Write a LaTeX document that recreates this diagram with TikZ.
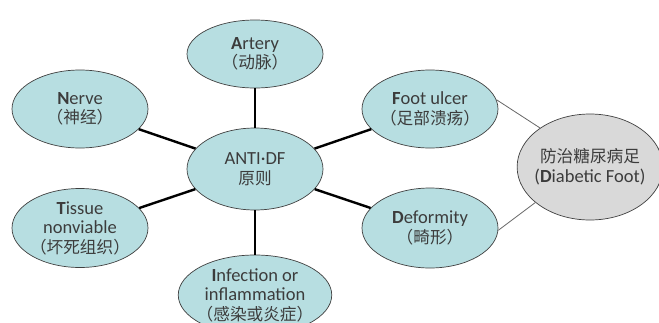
\documentclass[tikz,border=0pt]{standalone}
\usepackage{fontspec}
\setmainfont{Carlito}
\newfontfamily\cjk[Scale=0.9]{Noto Sans CJK SC}
\usetikzlibrary{shapes.geometric}

\definecolor{bubble}{RGB}{183,222,225}
\definecolor{greybubble}{RGB}{217,217,217}
\definecolor{txtgrey}{RGB}{60,60,60}

\begin{document}
\begin{tikzpicture}[x=1pt, y=-1pt, thick,
    factor/.style={ellipse, draw=black!75, line width=0.7pt, fill=bubble,
        text=txtgrey, align=center, inner sep=-4pt,
        font=\fontsize{18.5}{19.5}\selectfont},
    spoke/.style={line width=2.4pt, black},
    link/.style={line width=0.8pt, black!60}]

\useasboundingbox (0,0) rectangle (659,322);

% centre
\node[factor, minimum width=136pt, minimum height=82pt] (antidf) at (255,169)
    {ANTI·DF\\{\cjk 原则}};

% factors round the centre
\node[factor, minimum width=136pt, minimum height=68pt] (artery) at (255,54)
    {\textbf{A}rtery\\{\cjk （动脉）}};
\node[factor, minimum width=136pt, minimum height=78pt] (nerve) at (80,109)
    {\textbf{N}erve\\{\cjk （神经）}};
\node[factor, minimum width=136pt, minimum height=79pt] (tissue) at (80,228)
    {\textbf{T}issue\\nonviable\\{\cjk （坏死组织）}};
\node[factor, minimum width=140pt, minimum height=80pt] (infection) at (255,295)
    {\textbf{I}nfection or\\inflammation\\{\cjk （感染或炎症）}};
\node[factor, minimum width=136pt, minimum height=78pt] (ulcer) at (430,109)
    {\textbf{F}oot ulcer\\{\cjk （足部溃疡）}};
\node[factor, minimum width=136pt, minimum height=80pt] (deformity) at (430,228)
    {\textbf{D}eformity\\{\cjk （畸形）}};

% diabetic foot
\node[factor, fill=greybubble, minimum width=138pt, minimum height=106pt] (diabfoot) at (590,167)
    {{\cjk 防治糖尿病足}\\(\textbf{D}iabetic Foot)};

% spokes
\foreach \f in {artery, nerve, tissue, infection, ulcer, deformity}
    \draw[spoke] (antidf) -- (\f);

% thin links
\draw[link] (ulcer.8) -- (diabfoot.142);
\draw[link] (deformity.-2) -- (diabfoot.213);

\end{tikzpicture}
\end{document}
